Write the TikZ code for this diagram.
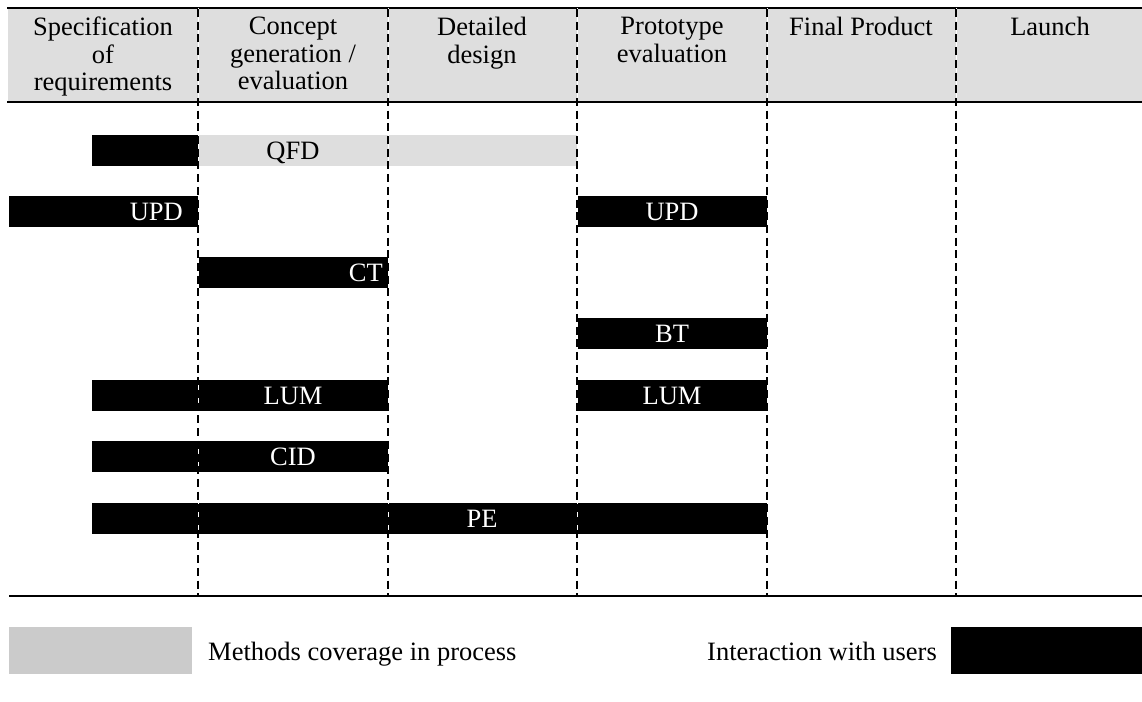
\documentclass[tikz,border=0pt]{standalone}
\usepackage{fontspec}
\setmainfont{Liberation Serif}
\definecolor{headgray}{HTML}{DEDEDE}
\definecolor{legendgray}{HTML}{CBCBCB}
\begin{document}
\begin{tikzpicture}[x=1pt,y=-1pt,
  every node/.style={font=\fontsize{26.5}{27.5}\selectfont, inner sep=0pt},
  head/.style={anchor=north, align=center},
  usr/.style={fill=black},
  cov/.style={fill=headgray},
  lbl/.style={text=white},
  barlabel/.style={anchor=base},
  rule/.style={line width=2.6pt},
  phasegap/.style={draw=white, line width=1pt},
  phaseline/.style={draw=black, line width=2pt, dash pattern=on 8pt off 4.7pt}]
\useasboundingbox (0,0) rectangle (1142,701);

% header band
\fill[headgray] (8,8) rectangle (1142,102);
\draw[rule] (7,8) -- (1142,8);
\draw[rule] (7,102) -- (1142,102);

% phase titles
\node[head] (h1) at (103,17) {Specification\\of\\requirements};
\node[head] (h2) at (293,17) {Concept\\generation /\\evaluation};
\node[head] (h3) at (482,17) {Detailed\\design};
\node[head] (h4) at (672,17) {Prototype\\evaluation};
\node[head] (h5) at (861,17) {Final Product};
\node[head] (h6) at (1050,17) {Launch};

% QFD
\fill[usr] (92,135) rectangle (198,166);
\fill[cov] (198,135) rectangle (577,166);
\node[barlabel] (qfd) at (293,159) {QFD};

% UPD
\fill[usr] (9,196) rectangle (198,227);
\node[lbl, anchor=base east] (upd1) at (183,220) {UPD};
\fill[usr] (577,196) rectangle (767,227);
\node[lbl, barlabel] (upd2) at (672,220) {UPD};

% CT
\fill[usr] (198,257) rectangle (388,288);
\node[lbl, anchor=base east] (ct) at (383,281) {CT};

% BT
\fill[usr] (577,318) rectangle (767,349);
\node[lbl, barlabel] (bt) at (672,342) {BT};

% LUM
\fill[usr] (92,380) rectangle (388,411);
\node[lbl, barlabel] (lum1) at (293,404) {LUM};
\fill[usr] (577,380) rectangle (767,411);
\node[lbl, barlabel] (lum2) at (672,404) {LUM};

% CID
\fill[usr] (92,441) rectangle (388,472);
\node[lbl, barlabel] (cid) at (293,465) {CID};

% PE
\fill[usr] (92,503) rectangle (767,534);
\node[lbl, barlabel] (pe) at (482,527) {PE};

% phase boundaries
\foreach \px in {198,388,577,767,956}{
  \draw[phasegap] (\px,8) -- (\px,595);
  \draw[phaseline] (\px,9) -- (\px,595);
}

% bottom rule
\draw[rule] (9,596) -- (1142,596);

% legend
\fill[legendgray] (9,627) rectangle (192,674);
\node[anchor=base west] (legcov) at (208,660) {Methods coverage in process};
\node[anchor=base east] (legusr) at (937,660) {Interaction with users};
\fill[usr] (951,627) rectangle (1142,674);
\end{tikzpicture}
\end{document}
